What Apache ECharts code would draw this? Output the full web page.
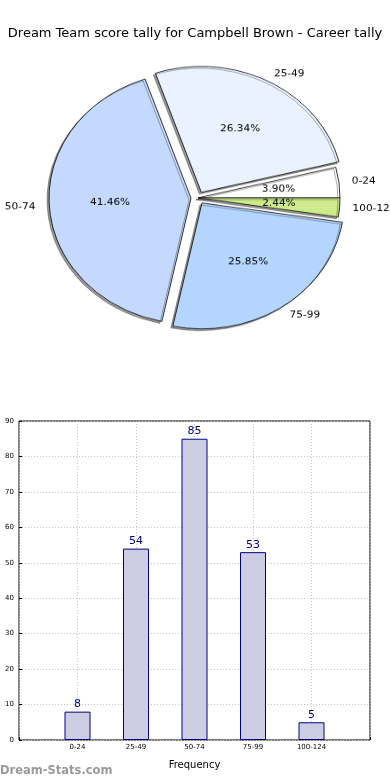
<!DOCTYPE html>
<html><head><meta charset="utf-8">
<script src="https://cdn.jsdelivr.net/npm/echarts@6/dist/echarts.min.js"></script>
<style>
html,body{margin:0;padding:0;background:#fff;}
#wrap{position:relative;width:390px;height:780px;overflow:hidden;}
#main{position:absolute;left:0;top:0;width:390px;height:780px;}
#pie{position:absolute;left:0;top:0;width:390px;height:420px;transform-origin:0 0;transform:scaleY(0.887);}
</style></head>
<body>
<div id="wrap"><div id="main"></div><div id="pie"></div></div>
<script>
const categories = ['0-24', '25-49', '50-74', '75-99', '100-124'];
const counts = [8, 54, 85, 53, 5];
const pieColors = ['#ffffff', '#eaf2ff', '#c5d9ff', '#b3d5ff', '#cdeb8b'];
const exploded = [false, true, true, true, false];
const yTicks = [0, 10, 20, 30, 40, 50, 60, 70, 80, 90];
const titleText = 'Dream Team score tally for Campbell Brown - Career tally';
const FONT = 'DejaVu Sans';

const total = counts.reduce((a, b) => a + b, 0);
const R = 142;
const labelGap = [13, 10, 14, 12, 13];

const main = echarts.init(document.getElementById('main'), null, {renderer: 'canvas'});
main.setOption({
  animation: false,
  textStyle: {fontFamily: FONT},
  title: {
    text: titleText, left: 'center', top: 22,
    textStyle: {fontFamily: FONT, fontSize: 13, fontWeight: 'normal', color: '#000'}
  },
  graphic: [{
    type: 'text', left: 0, top: 765,
    style: {text: 'Dream-Stats.com', fill: '#9a9a9a', font: 'bold 11.5px "DejaVu Sans"'}
  }],
  grid: {left: 19, right: 20, top: 421, bottom: 40, show: true, borderColor: '#000', borderWidth: 1},
  xAxis: {
    type: 'value', min: 0, max: 6, interval: 1,
    name: 'Frequency', nameLocation: 'middle', nameGap: 20,
    nameTextStyle: {fontFamily: FONT, fontSize: 10, color: '#000'},
    axisLine: {show: false},
    axisTick: {show: true, inside: true, length: 3, lineStyle: {color: '#000'}},
    axisLabel: {
      fontSize: 7, color: '#000', margin: 4,
      formatter: v => (v >= 1 && v <= categories.length) ? categories[v - 1] : ''
    },
    splitLine: {show: true, lineStyle: {color: '#c4c4c4', type: [1, 2], width: 1}}
  },
  yAxis: {
    type: 'value', min: 0, max: 90, interval: 10,
    axisLine: {show: false},
    axisTick: {show: true, inside: true, length: 3, lineStyle: {color: '#000'}},
    axisLabel: {fontSize: 7, color: '#000', margin: 5},
    splitLine: {show: true, lineStyle: {color: '#c4c4c4', type: [1, 2], width: 1}}
  },
  series: [{
    type: 'bar',
    barWidth: 26,
    data: counts.map((c, i) => [i + 1, c]),
    itemStyle: {color: '#ccccE2', borderColor: '#000080', borderWidth: 1},
    label: {show: true, position: 'top', distance: 2, color: '#000080', fontSize: 11, fontFamily: FONT,
      formatter: p => p.value[1]}
  }]
});

const pie = echarts.init(document.getElementById('pie'), null, {renderer: 'canvas'});
const center = [198, 223];
pie.setOption({
  animation: false,
  series: [{
    type: 'pie',
    center: center,
    radius: [0, R],
    startAngle: 0,
    clockwise: false,
    selectedMode: 'multiple',
    selectedOffset: 7,
    avoidLabelOverlap: false,
    emphasis: {disabled: true},
    silent: true,
    itemStyle: {borderColor: '#000', borderWidth: 0.8, shadowColor: 'rgba(0,0,0,0.4)', shadowOffsetX: -2, shadowOffsetY: 2, shadowBlur: 0},
    label: {show: true, position: 'outside', fontFamily: FONT, fontSize: 10.5, color: '#000', alignTo: 'none', distanceToLabelLine: 0},
    labelLine: {show: false, length: 10, length2: 0},
    data: categories.map((c, i) => ({
      name: c, value: counts[i], selected: exploded[i], itemStyle: {color: pieColors[i]},
      labelLine: {show: false, length: labelGap[i], length2: 0}
    }))
  }, {
    type: 'pie',
    center: center,
    radius: [0, R * 1.1],
    startAngle: 0,
    clockwise: false,
    selectedMode: 'multiple',
    selectedOffset: 7,
    avoidLabelOverlap: false,
    emphasis: {disabled: true},
    silent: true,
    z: 5,
    itemStyle: {color: 'rgba(0,0,0,0)', borderWidth: 0},
    label: {show: true, position: 'inside', fontFamily: FONT, fontSize: 10.5, color: '#000',
      formatter: p => (p.value / total * 100).toFixed(2) + '%'},
    labelLine: {show: false},
    data: categories.map((c, i) => ({name: c, value: counts[i], selected: exploded[i]}))
  }]
});
</script>
</body></html>
